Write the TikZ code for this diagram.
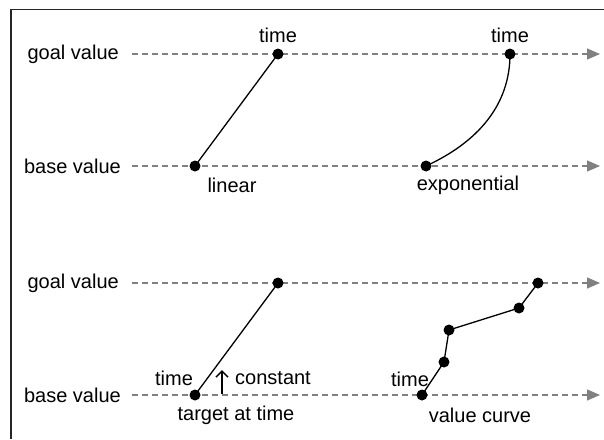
\documentclass[tikz,border=0pt]{standalone}
\usepackage{fontspec}
\setmainfont{Liberation Sans}
\usetikzlibrary{arrows.meta}
\begin{document}
\begin{tikzpicture}[x=1pt,y=-1pt,
  lbl/.style={inner sep=0pt,font=\fontsize{20}{24}\selectfont},
  dot/.style={circle,fill=black,inner sep=0pt,minimum size=11pt},
  axis/.style={draw=black!50,line width=1.4pt,dash pattern=on 6pt off 4pt,-{Triangle[length=13pt,width=11pt,fill=black!50]}},
  curve/.style={draw=black,line width=1.3pt}]
\useasboundingbox (0,0) rectangle (604,439);
\draw[line width=1.3pt,draw=black!85] (11,439) -- (11,9.5) -- (604,9.5);
% axis labels
\node[lbl,anchor=east] (g1) at (119,54) {goal value};
\node[lbl,anchor=east] (b1) at (121,166) {base value};
\node[lbl,anchor=east] (g2) at (119,283) {goal value};
\node[lbl,anchor=east] (b2) at (121,395) {base value};
\coordinate (g1e) at (600,54);
\coordinate (b1e) at (600,166);
\coordinate (g2e) at (600,283);
\coordinate (b2e) at (600,395);
\draw[axis] ([xshift=13pt]g1.east) -- (g1e);
\draw[axis] ([xshift=11pt]b1.east) -- (b1e);
\draw[axis] ([xshift=13pt]g2.east) -- (g2e);
\draw[axis] ([xshift=11pt]b2.east) -- (b2e);
% linear
\node[dot] (l1) at (195,166) {};
\node[dot] (l2) at (278,54) {};
\draw[curve] (l1.center) -- (l2.center);
\node[lbl] (t1) at (278,35) {time};
\node[lbl] (lin) at (232,185) {linear};
% exponential
\node[dot] (e1) at (426,166) {};
\node[dot] (e2) at (510,54) {};
\draw[curve] (e1.center) .. controls (478,142) and (510,105) .. (e2.center);
\node[lbl] (t2) at (510,35) {time};
\node[lbl] (exp) at (468,185) {exponential};
% target at time
\node[dot] (c1) at (195,395) {};
\node[dot] (c2) at (278,283) {};
\draw[curve] (c1.center) -- (c2.center);
\node[lbl] (t3) at (174,378) {time};
\coordinate (ca) at (222,394);
\coordinate (cb) at (222,370);
\draw[line width=1.5pt,-{Straight Barb[length=6pt,width=12pt,line width=1.5pt]}] (ca) -- (cb);
\node[lbl,anchor=west] (con) at (235,378) {constant};
\node[lbl] (tat) at (236,415) {target at time};
% value curve
\node[dot] (v1) at (422,395) {};
\node[dot] (v2) at (444,362) {};
\node[dot] (v3) at (449,330) {};
\node[dot] (v4) at (519,308) {};
\node[dot] (v5) at (538,283) {};
\draw[curve] (v1.center) -- (v2.center) -- (v3.center) -- (v4.center) -- (v5.center);
\node[lbl] (t4) at (410,379) {time};
\node[lbl] (vc) at (480,415) {value curve};
\end{tikzpicture}
\end{document}
